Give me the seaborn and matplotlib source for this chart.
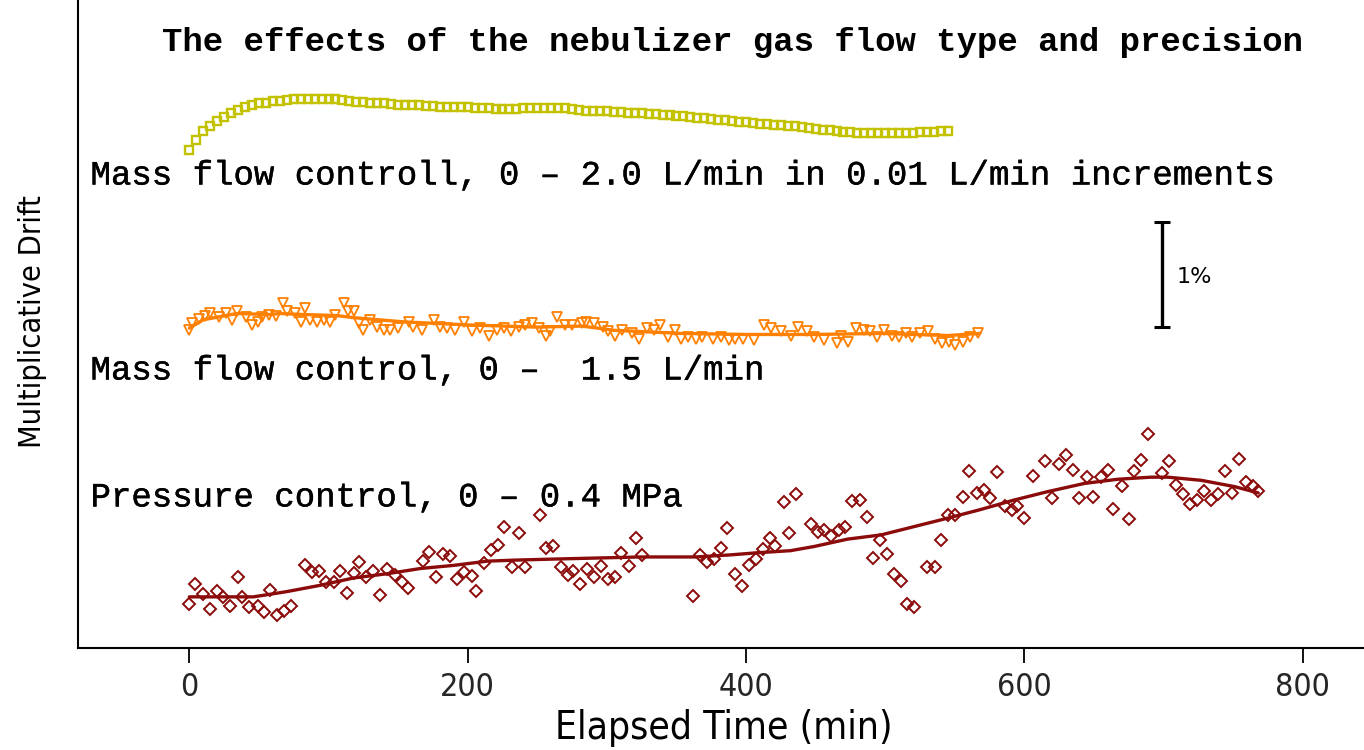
import numpy as np
import pandas as pd
import matplotlib
matplotlib.use("Agg")
import matplotlib.pyplot as plt
from matplotlib import font_manager as fm
from matplotlib import patheffects as pe
import seaborn as sns

# ---------------- data (drift in %, relative to each series' start) ----------------
# Mass flow control, 0 - 2.0 L/min in 0.01 L/min increments (sampled every 5 min)
mfc2_time = np.arange(0, 550, 5)
mfc2_drift = [
    0.000, 0.095, 0.181, 0.229, 0.276, 0.314, 0.352, 0.381, 0.410, 0.429,
    0.443, 0.452, 0.462, 0.471, 0.476, 0.481, 0.486, 0.490, 0.490, 0.490,
    0.486, 0.481, 0.476, 0.467, 0.457, 0.457, 0.452, 0.448, 0.443, 0.438,
    0.433, 0.429, 0.429, 0.424, 0.419, 0.419, 0.414, 0.410, 0.410, 0.410,
    0.405, 0.400, 0.400, 0.400, 0.395, 0.390, 0.390, 0.395, 0.400, 0.400,
    0.400, 0.400, 0.400, 0.400, 0.400, 0.395, 0.381, 0.376, 0.371, 0.371,
    0.367, 0.362, 0.362, 0.357, 0.352, 0.352, 0.343, 0.338, 0.333, 0.329,
    0.324, 0.319, 0.314, 0.305, 0.300, 0.295, 0.286, 0.281, 0.276, 0.271,
    0.267, 0.257, 0.252, 0.248, 0.238, 0.238, 0.229, 0.229, 0.219, 0.210,
    0.200, 0.195, 0.190, 0.181, 0.176, 0.171, 0.162, 0.162, 0.162, 0.162,
    0.162, 0.162, 0.162, 0.162, 0.162, 0.167, 0.171, 0.176, 0.181, 0.181,
]

# Mass flow control, 0 - 1.5 L/min
mfc15_time = [
    0, 2, 7, 11, 15, 21, 26, 31, 34, 41,
    45, 49, 52, 57, 62, 67, 70, 76, 80, 83,
    87, 92, 97, 101, 105, 111, 114, 118, 122, 125,
    130, 135, 140, 144, 150, 158, 161, 167, 176, 180,
    185, 191, 197, 203, 209, 215, 221, 226, 231, 237,
    241, 246, 251, 256, 259, 264, 270, 275, 282, 285,
    291, 297, 301, 306, 311, 318, 323, 329, 334, 338,
    344, 349, 353, 358, 364, 368, 376, 382, 388, 392,
    398, 406, 413, 418, 425, 432, 437, 444, 449, 456,
    465, 468, 473, 479, 485, 489, 494, 499, 505, 510,
    515, 519, 525, 531, 536, 541, 546, 550, 556, 561,
    567,
]
mfc15_drift = [
    -0.05, 0.02, 0.06, 0.09, 0.11, 0.08, 0.11, 0.05, 0.13, 0.08,
    0.00, 0.03, 0.08, 0.10, 0.09, 0.21, 0.13, 0.11, 0.03, 0.16,
    0.05, 0.03, 0.05, 0.03, 0.10, 0.21, 0.13, 0.13, 0.02, -0.05,
    0.05, -0.02, -0.05, -0.05, -0.03, 0.03, -0.02, -0.05, 0.05, -0.02,
    -0.03, -0.05, 0.03, -0.06, -0.03, -0.10, -0.05, -0.03, -0.06, -0.02,
    0.00, 0.02, -0.03, -0.10, -0.06, 0.08, 0.00, 0.00, 0.02, 0.03,
    0.02, -0.02, -0.06, -0.10, -0.05, -0.08, -0.13, -0.03, -0.05, 0.00,
    -0.11, -0.05, -0.13, -0.11, -0.13, -0.11, -0.13, -0.11, -0.14, -0.13,
    -0.13, -0.14, 0.00, -0.03, -0.06, -0.10, -0.02, -0.06, -0.11, -0.14,
    -0.17, -0.10, -0.16, -0.03, -0.05, -0.06, -0.11, -0.05, -0.10, -0.11,
    -0.08, -0.11, -0.08, -0.06, -0.13, -0.17, -0.16, -0.19, -0.16, -0.11,
    -0.08,
]
mfc15_trend_time = [0, 10, 34, 58, 65, 82, 106, 118, 154, 202,
                    250, 282, 305, 353, 401, 448, 497, 545, 568]
mfc15_trend = [-0.03, 0.05, 0.11, 0.10, 0.11, 0.10, 0.09, 0.07, 0.03, 0.00,
               -0.02, -0.01, -0.05, -0.08, -0.09, -0.09, -0.08, -0.10, -0.08]

# Pressure control, 0 - 0.4 MPa
pc_time = [
    0, 4, 10, 15, 20, 24, 29, 35, 38, 43,
    49, 54, 58, 63, 68, 73, 83, 88, 93, 98,
    104, 108, 113, 118, 122, 127, 132, 137, 142, 148,
    153, 157, 168, 172, 177, 182, 187, 192, 197, 203,
    206, 212, 217, 222, 226, 232, 237, 241, 252, 256,
    261, 267, 272, 276, 281, 286, 291, 296, 301, 306,
    310, 316, 321, 325, 362, 367, 372, 377, 382, 386,
    392, 397, 402, 407, 412, 417, 421, 427, 431, 436,
    447, 452, 456, 461, 467, 471, 476, 482, 487, 491,
    496, 501, 506, 511, 516, 521, 530, 536, 540, 545,
    550, 556, 560, 566, 571, 575, 580, 586, 591, 595,
    600, 606, 615, 620, 625, 630, 635, 639, 645, 649,
    655, 660, 664, 670, 675, 679, 684, 689, 699, 704,
    709, 714, 719, 724, 729, 734, 739, 744, 749, 754,
    759, 764, 768,
]
pc_drift = [
    -0.04, 0.15, 0.06, -0.09, 0.09, 0.03, -0.06, 0.22, 0.03, -0.07,
    -0.06, -0.11, 0.10, -0.14, -0.10, -0.06, 0.33, 0.27, 0.28, 0.17,
    0.17, 0.28, 0.07, 0.26, 0.36, 0.22, 0.28, 0.05, 0.30, 0.24,
    0.17, 0.11, 0.37, 0.46, 0.22, 0.44, 0.42, 0.20, 0.27, 0.23,
    0.09, 0.35, 0.48, 0.52, 0.70, 0.31, 0.64, 0.31, 0.81, 0.50,
    0.51, 0.31, 0.24, 0.28, 0.15, 0.30, 0.22, 0.32, 0.20, 0.22,
    0.45, 0.32, 0.59, 0.43, 0.04, 0.43, 0.36, 0.39, 0.50, 0.69,
    0.25, 0.13, 0.33, 0.39, 0.49, 0.59, 0.51, 0.93, 0.64, 1.01,
    0.72, 0.65, 0.67, 0.61, 0.67, 0.70, 0.94, 0.95, 0.79, 0.40,
    0.57, 0.44, 0.25, 0.18, -0.04, -0.07, 0.31, 0.31, 0.57, 0.81,
    0.81, 0.98, 1.23, 1.02, 1.05, 0.97, 1.22, 0.90, 0.86, 0.90,
    0.78, 1.18, 1.32, 0.97, 1.30, 1.38, 1.24, 0.97, 1.17, 0.98,
    1.17, 1.24, 0.87, 1.09, 0.77, 1.23, 1.33, 1.58, 1.21, 1.32,
    1.10, 1.01, 0.91, 0.95, 1.04, 0.95, 1.01, 1.23, 1.02, 1.34,
    1.12, 1.09, 1.04,
]
pc_trend_time = [0, 22, 46, 70, 94, 118, 142, 166, 190, 214, 234, 262, 324, 364,
                 389, 408, 432, 449, 473, 497, 521, 545, 568, 592, 616, 643,
                 667, 691, 703, 727, 751, 768]
pc_trend = [0.03, 0.03, 0.03, 0.08, 0.14, 0.21, 0.25, 0.30, 0.33, 0.37, 0.38,
            0.39, 0.41, 0.41, 0.43, 0.45, 0.47, 0.51, 0.58, 0.62, 0.70, 0.78,
            0.86, 0.95, 1.03, 1.11, 1.15, 1.17, 1.17, 1.14, 1.08, 1.02]

x_ticks = [0, 200, 400, 600, 800]
x_tick_labels = ["0", "200", "400", "600", "800"]

title_text = "The effects of the nebulizer gas flow type and precision"
label_mfc2 = "Mass flow controll, 0 \u2013 2.0 L/min in 0.01 L/min increments"
label_mfc15 = "Mass flow control, 0 \u2013  1.5 L/min"
label_pc = "Pressure control, 0 \u2013 0.4 MPa"
scale_text = "1%"

# ---------------- layout ----------------
# vertical stacking offsets (in %) so the three traces sit one above the other
OFF_MFC2 = 4.743
OFF_MFC15 = 3.076
OFF_PC = 0.457

C_MFC2 = "#c3c200"
C_MFC15 = "#ff8000"
C_PC = "#8b0a0a"

sns.set_theme(style="white")
plt.rcParams["font.family"] = ["DejaVu Sans"]


def find_narrow_font():
    entries = fm.fontManager.ttflist
    def is_regular(f):
        w = f.weight
        return (w in (400, "normal", "regular", "book")) and f.style == "normal"
    for f in entries:
        if f.name == "DejaVu Sans" and str(f.stretch) in ("condensed", "semi-condensed") and is_regular(f):
            return fm.FontProperties(fname=f.fname)
    for f in entries:
        tag = (f.name + " " + f.fname).lower()
        if ("narrow" in tag or "condensed" in tag) and is_regular(f):
            return fm.FontProperties(fname=f.fname)
    return fm.FontProperties(family="DejaVu Sans")


narrow = find_narrow_font()

W, H = 1364, 750
fig = plt.figure(figsize=(W / 100, H / 100), dpi=100)
ax = fig.add_axes([78 / W, 102 / H, 1 - 78 / W, 1 - 102 / H])

df2 = pd.DataFrame({"t": mfc2_time, "y": np.asarray(mfc2_drift) + OFF_MFC2})
df15 = pd.DataFrame({"t": mfc15_time, "y": np.asarray(mfc15_drift) + OFF_MFC15})
df15t = pd.DataFrame({"t": mfc15_trend_time, "y": np.asarray(mfc15_trend) + OFF_MFC15})
dfp = pd.DataFrame({"t": pc_time, "y": np.asarray(pc_drift) + OFF_PC})
dfpt = pd.DataFrame({"t": pc_trend_time, "y": np.asarray(pc_trend) + OFF_PC})

# 2.0 L/min mass flow: hollow squares
sns.lineplot(data=df2, x="t", y="y", ax=ax, estimator=None, sort=False,
             linestyle="", marker="s", markersize=5.6, markerfacecolor="none",
             markeredgecolor=C_MFC2, markeredgewidth=1.7, color=C_MFC2)

# 1.5 L/min mass flow: trend line and hollow down-triangles
sns.lineplot(data=df15t, x="t", y="y", ax=ax, estimator=None, sort=False,
             color=C_MFC15, linewidth=2.4)
sns.lineplot(data=df15, x="t", y="y", ax=ax, estimator=None, sort=False,
             linestyle="", marker="v", markersize=7.5, markerfacecolor="none",
             markeredgecolor=C_MFC15, markeredgewidth=1.3, color=C_MFC15)

# pressure control: hollow diamonds and smooth trend
sns.lineplot(data=dfp, x="t", y="y", ax=ax, estimator=None, sort=False,
             linestyle="", marker="D", markersize=5.8, markerfacecolor="none",
             markeredgecolor=C_PC, markeredgewidth=1.4, color=C_PC)
sns.lineplot(data=dfpt, x="t", y="y", ax=ax, estimator=None, sort=False,
             color=C_PC, linewidth=2.4)

# 1 % scale bar
bar_x, bar_lo = 699, 3.057
ax.errorbar([bar_x], [bar_lo + 0.5], yerr=[[0.5], [0.5]], fmt="none",
            ecolor="black", elinewidth=2.4, capsize=6, capthick=2.2)
ax.text(709, bar_lo + 0.476, scale_text, fontsize=16, family="DejaVu Sans",
        ha="left", va="center", color="black")

mono = ["Liberation Mono", "DejaVu Sans Mono"]
thick = [pe.withStroke(linewidth=0.3, foreground="black")]
ax.text(-71, 4.495, label_mfc2, family=mono, fontsize=24.5, ha="left", va="center",
        color="black", path_effects=thick)
ax.text(-71, 2.638, label_mfc15, family=mono, fontsize=24.5, ha="left", va="center",
        color="black", path_effects=thick)
ax.text(-71, 1.429, label_pc, family=mono, fontsize=24.5, ha="left", va="center",
        color="black", path_effects=thick)
fig.text(732 / W, 1 - 43 / H, title_text, family=mono, fontsize=24.5,
         fontweight="bold", ha="center", va="center", color="black")

ax.set_xlim(-80, 844)
ax.set_ylim(0, 648 / 105)
ax.set_xticks(x_ticks)
ax.set_xticklabels(x_tick_labels, fontproperties=narrow, fontsize=23)
ax.set_yticks([])
ax.set_xlabel("")
ax.set_ylabel("")
ax.tick_params(axis="x", direction="out", length=11, width=1.3, color="black",
               pad=6, bottom=True)
for side in ("top", "right"):
    ax.spines[side].set_visible(False)
for side in ("left", "bottom"):
    ax.spines[side].set_color("black")
    ax.spines[side].set_linewidth(1.5)

fig.text(724 / W, 1 - 728 / H, "Elapsed Time (min)", fontproperties=narrow,
         fontsize=28, ha="center", va="center", color="black")
fig.text(33 / W, 1 - 322 / H, "Multiplicative Drift", fontproperties=narrow,
         fontsize=22, rotation=90, ha="center", va="center", color="black")

fig.savefig("out.png", dpi=100, facecolor="white")
